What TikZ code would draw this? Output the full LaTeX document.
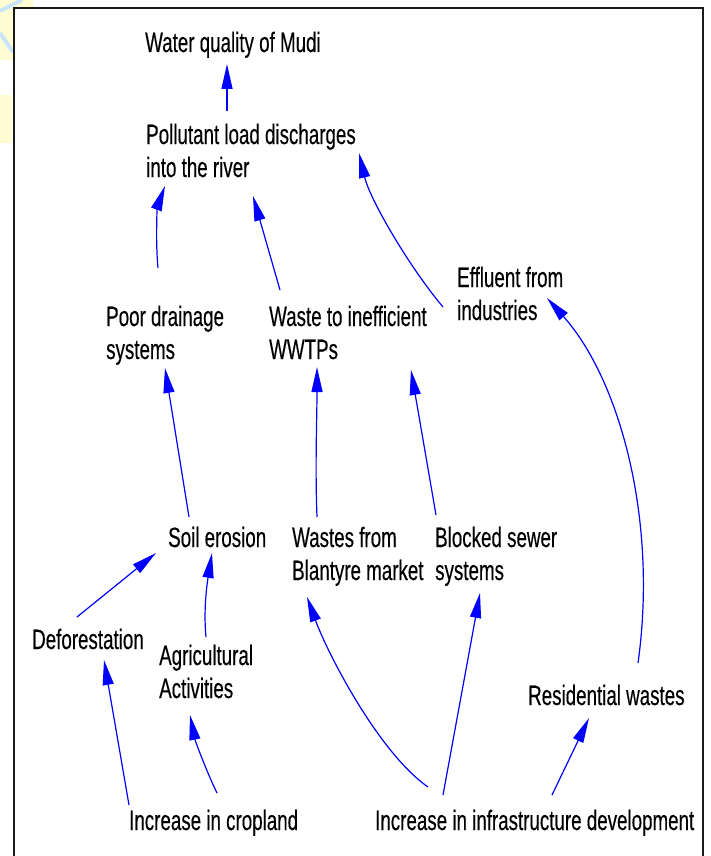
\documentclass[tikz,border=0pt]{standalone}
\usepackage{fontspec}
\setmainfont[FakeStretch=0.67,FakeBold=0.3]{Liberation Sans}
\usetikzlibrary{arrows.meta}
\definecolor{arrowblue}{RGB}{0,0,255}
\definecolor{wmyellow}{RGB}{255,252,212}
\definecolor{wmblue}{RGB}{200,228,248}
\begin{document}
\begin{tikzpicture}[x=1pt,y=-1pt,
  lbl/.style={anchor=base west, inner sep=0pt, align=left, font=\fontsize{28}{33}\selectfont},
  link/.style={draw=arrowblue, line width=1.2pt, -{Triangle[length=25pt,width=11pt]}},
  frameline/.style={draw=black!90, line width=1.6pt}]
\useasboundingbox (0,0) rectangle (710,856);
% watermark remnants
\fill[wmyellow] (0,0) rectangle (33,8);
\fill[wmyellow] (0,0) rectangle (13,60);
\fill[wmyellow] (0,95) rectangle (12,143);
\draw[wmblue, line width=4pt] (0,11) -- (22,0);
\draw[wmblue, line width=4pt] (0,33) -- (13,52);
% frame
\draw[frameline] (14,856) -- (14,8) -- (703,8) -- (703,856);
% nodes (anchor = baseline of the last line)
\node[lbl] (water)  at (145,52)  {Water quality of Mudi};
\node[lbl] (poll)   at (146,177) {Pollutant load discharges\\into the river};
\node[lbl] (poor)   at (106,359) {Poor drainage\\systems};
\node[lbl] (wwtp)   at (269,359) {Waste to inefficient\\WWTPs};
\node[lbl] (eff)    at (457,320) {Effluent from\\industries};
\node[lbl] (soil)   at (168,547) {Soil erosion};
\node[lbl] (market) at (292,580) {Wastes from\\Blantyre market};
\node[lbl] (sewer)  at (435,580) {Blocked sewer\\systems};
\node[lbl] (defor)  at (32,649)  {Deforestation};
\node[lbl] (agri)   at (159,698) {Agricultural\\Activities};
\node[lbl] (resid)  at (528,705) {Residential wastes};
\node[lbl] (crop)   at (129,830) {Increase in cropland};
\node[lbl] (infra)  at (375,830) {Increase in infrastructure development};
% connectors
\draw[link] ([shift={(81,-66)}]poll.base west) -- ([shift={(82,12)}]water.base west);
\draw[link] ([shift={(52,-91)}]poor.base west) .. controls +(-3,-33) and +(-7,19) .. ([shift={(19,9)}]poll.base west);
\draw[link] ([shift={(11,-69)}]wwtp.base west) -- ([shift={(107,19)}]poll.base west);
\draw[link] ([shift={(-14,-13)}]eff.base west) .. controls +(-33,-39) and +(11,47) .. ([shift={(213,-24)}]poll.base west);
\draw[link] ([shift={(21,-30)}]soil.base west) -- ([shift={(59,9)}]poor.base west);
\draw[link] ([shift={(25,-63)}]market.base west) .. controls +(-2,-50) and +(0,50) .. ([shift={(48,8)}]wwtp.base west);
\draw[link] ([shift={(1,-65)}]sewer.base west) -- ([shift={(142,11)}]wwtp.base west);
\draw[link] ([shift={(110,-42)}]resid.base west) .. controls +(20,-143) and +(73,82) .. ([shift={(90,-22)}]eff.base west);
\draw[link] ([shift={(45,-32)}]defor.base west) -- ([shift={(-12,6)}]soil.base west);
\draw[link] ([shift={(47,-61)}]agri.base west) .. controls +(-3,-30) and +(-4,25) .. ([shift={(44,6)}]soil.base west);
\draw[link] ([shift={(0,-25)}]crop.base west) -- ([shift={(72,11)}]defor.base west);
\draw[link] ([shift={(88,-37)}]crop.base west) .. controls +(-12,-25) and +(5,25) .. ([shift={(31,17)}]agri.base west);
\draw[link] ([shift={(53,-43)}]infra.base west) .. controls +(-50,-35) and +(20,55) .. ([shift={(15,17)}]market.base west);
\draw[link] ([shift={(68,-35)}]infra.base west) -- ([shift={(45,13)}]sewer.base west);
\draw[link] ([shift={(177,-35)}]infra.base west) -- ([shift={(61,13)}]resid.base west);
\end{tikzpicture}
\end{document}
